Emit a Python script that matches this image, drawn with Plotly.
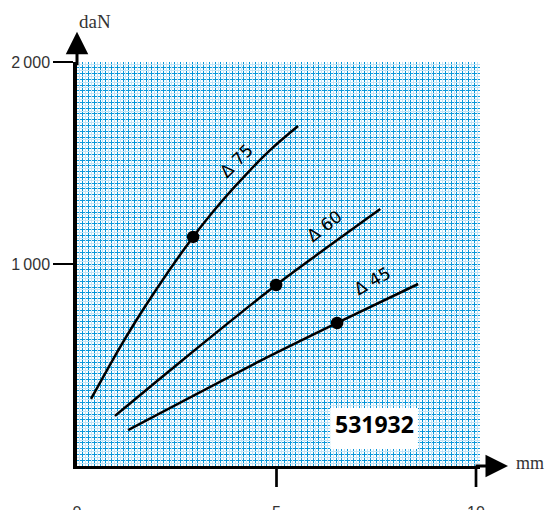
import plotly.graph_objects as go

# curves (x in mm, y in daN)
d75_x = [0.35, 1.08, 1.78, 2.91, 3.64, 4.34, 4.94, 5.54]
d75_y = [332, 589, 812, 1134, 1313, 1465, 1582, 1683]
d60_x = [0.95, 2.71, 4.99, 7.60]
d60_y = [248, 535, 896, 1272]
d45_x = [1.28, 4.59, 6.52, 8.55]
d45_y = [178, 520, 708, 901]

# marked points on each curve
dot_x = [2.91, 4.99, 6.52]
dot_y = [1134, 896, 708]

curve_names = ['Δ 75', 'Δ 60', 'Δ 45']
label_x = [3.99, 6.20, 7.40]
label_y = [1510, 1188, 916]
label_angle = [-45, -38, -30]

x_ticks = [0, 5, 10]
y_ticks = [1000, 2000]
y_ticktext = ['1\u2009000', '2\u2009000']
part_no = '531932'

X_MAX = 10.1
Y_MAX = 2000
GRID_N = 7  # big squares of the paper

fig = go.Figure()

# invisible traces so the grid overlay axes get drawn
fig.add_trace(go.Scatter(x=[], y=[], xaxis='x2', yaxis='y2', showlegend=False))
fig.add_trace(go.Scatter(x=[], y=[], xaxis='x3', yaxis='y3', showlegend=False))

for xs, ys in [(d75_x, d75_y), (d60_x, d60_y), (d45_x, d45_y)]:
    fig.add_trace(go.Scatter(x=xs, y=ys, mode='lines',
                             line=dict(color='black', width=2.5, shape='spline', smoothing=0.7),
                             showlegend=False, hoverinfo='skip'))

fig.add_trace(go.Scatter(x=dot_x, y=dot_y, mode='markers',
                         marker=dict(color='black', size=12.5),
                         showlegend=False, hoverinfo='skip'))

for name, lx, ly, ang in zip(curve_names, label_x, label_y, label_angle):
    fig.add_annotation(x=lx, y=ly, text=name, showarrow=False, textangle=ang,
                       xanchor='center', yanchor='middle',
                       font=dict(family='DejaVu Sans', size=17, color='black'))

# tick marks at 5 and 10 (none at 0 in the original)
for t in x_ticks[1:]:
    fig.add_shape(type='line', xref='x', yref='paper', x0=t, x1=t, y0=0, y1=-0.052,
                  line=dict(color='black', width=2.7))

# part number box
fig.add_shape(type='rect', xref='paper', yref='paper', x0=0.628, x1=0.846, y0=0.042, y1=0.1436,
              fillcolor='white', line=dict(width=0))
fig.add_annotation(xref='paper', yref='paper', x=0.737, y=0.104, text='<b>' + part_no + '</b>',
                   showarrow=False, xanchor='center', yanchor='middle',
                   font=dict(family='Open Sans', size=23, color='black'))

# axis arrows
fig.add_annotation(xref='paper', yref='paper', x=0, y=1.075, ax=0, ay=35, axref='pixel', ayref='pixel',
                   text='', showarrow=True, arrowhead=2, arrowsize=1.5, arrowwidth=3, arrowcolor='black')
fig.add_annotation(xref='paper', yref='paper', x=1.0695, y=0, ax=-34, ay=0, axref='pixel', ayref='pixel',
                   text='', showarrow=True, arrowhead=2, arrowsize=1.5, arrowwidth=3, arrowcolor='black')

fig.add_annotation(xref='paper', yref='paper', x=0.045, y=1.101, text='daN', showarrow=False,
                   xanchor='center', yanchor='middle',
                   font=dict(family='Liberation Serif', size=19, color='#333'))
fig.add_annotation(xref='paper', yref='paper', x=1.124, y=0.0074, text='mm', showarrow=False,
                   xanchor='center', yanchor='middle',
                   font=dict(family='Liberation Serif', size=18, color='#333'))

grid_axis = dict(range=[0, GRID_N], showticklabels=False, ticks='', showline=False,
                 zeroline=False, automargin=False)

# the page body adds 8px, so the figure is 8px smaller than the window
fig.update_layout(
    width=545, height=502,
    margin=dict(l=69, r=73, t=54, b=44, autoexpand=False),
    paper_bgcolor='white', plot_bgcolor='white',
    xaxis=dict(range=[0, X_MAX], tickvals=x_ticks, ticktext=[str(t) for t in x_ticks],
               ticks='', ticklabelstandoff=30, showgrid=False, zeroline=False, automargin=False,
               showline=True, linecolor='black', linewidth=3,
               tickfont=dict(family='Liberation Sans', size=16, color='#333')),
    yaxis=dict(range=[0, Y_MAX], tickvals=y_ticks, ticktext=y_ticktext,
               ticks='outside', ticklen=20, tickwidth=2, tickcolor='black',
               showgrid=False, zeroline=False, automargin=False,
               showline=True, linecolor='black', linewidth=3.5,
               tickfont=dict(family='Liberation Sans', size=16, color='#333')),
    xaxis2=dict(grid_axis, overlaying='x', anchor='y2', showgrid=True, tick0=0, dtick=1,
                gridcolor='#0094d8', gridwidth=1.3,
                minor=dict(tick0=0, dtick=0.1, showgrid=True, gridcolor='#0a98da', gridwidth=1)),
    yaxis2=dict(grid_axis, overlaying='y', anchor='x2', showgrid=True, tick0=0, dtick=1,
                gridcolor='#0094d8', gridwidth=1.3,
                minor=dict(tick0=0, dtick=0.1, showgrid=True, gridcolor='#0a98da', gridwidth=1)),
    xaxis3=dict(grid_axis, overlaying='x', anchor='y3', showgrid=True, tick0=0.05, dtick=0.1,
                gridcolor='#c2e4f6', gridwidth=1),
    yaxis3=dict(grid_axis, overlaying='y', anchor='x3', showgrid=True, tick0=0.05, dtick=0.1,
                gridcolor='#c2e4f6', gridwidth=1),
)

fig.write_html("out.html")
